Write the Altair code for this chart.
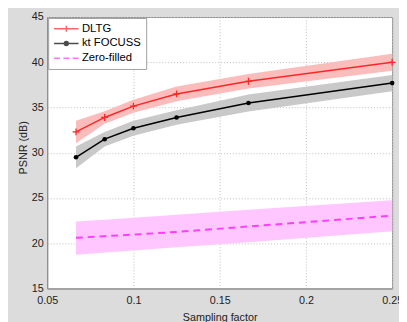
import altair as alt
import pandas as pd

# ---- data ----
sampling = [0.0667, 0.0833, 0.1, 0.125, 0.1667, 0.25]
dltg = [32.3, 33.9, 35.15, 36.5, 37.9, 40.0]
dltg_lo = [31.05, 33.2, 34.43, 35.68, 37.1, 39.07]
dltg_hi = [33.55, 34.6, 35.87, 37.32, 38.7, 40.93]
kt = [29.5, 31.5, 32.7, 33.9, 35.5, 37.7]
kt_lo = [28.3, 30.7, 31.87, 33.1, 34.57, 36.8]
kt_hi = [30.7, 32.3, 33.53, 34.7, 36.43, 38.6]
zf = [20.6, 20.78, 20.95, 21.25, 21.85, 23.05]
zf_lo = [18.74, 18.98, 19.2, 19.56, 20.1, 21.33]
zf_hi = [22.4, 22.6, 22.83, 23.15, 23.7, 24.75]

series = ["DLTG", "kt FOCUSS", "Zero-filled"]
line_colors = ["#ff2626", "#000000", "#ff3cff"]
band_colors = ["#fbbcbc", "#c9c9c9", "#ffc6ff"]
x_ticks = [0.05, 0.1, 0.15, 0.2, 0.25]
y_ticks = [15, 20, 25, 30, 35, 40, 45]

rows = []
for name, ys, los, his in [("DLTG", dltg, dltg_lo, dltg_hi),
                           ("kt FOCUSS", kt, kt_lo, kt_hi),
                           ("Zero-filled", zf, zf_lo, zf_hi)]:
    for xv, yv, lo, hi in zip(sampling, ys, los, his):
        rows.append({"series": name, "x": xv, "y": yv, "lo": lo, "hi": hi})
df = pd.DataFrame(rows)

FONT = "Liberation Sans"

X = alt.X("x:Q", scale=alt.Scale(domain=[0.05, 0.25], nice=False, zero=False),
          axis=alt.Axis(values=x_ticks, format="~g", title="Sampling factor",
                        labelPadding=6, titlePadding=7))
yaxis = alt.Axis(values=y_ticks, title="PSNR (dB)", labelPadding=4,
                 titleX=-24, titleY=133, titleAlign="center",
                 titleBaseline="middle", titleAngle=270)
Y = alt.Y("y:Q", scale=alt.Scale(domain=[15, 45], nice=False, zero=False), axis=yaxis)
Ylo = alt.Y("lo:Q", scale=alt.Scale(domain=[15, 45], nice=False, zero=False), axis=yaxis)

base = alt.Chart(df)

def sel(name):
    return base.transform_filter(alt.datum.series == name)

band_kt = sel("kt FOCUSS").mark_area(color=band_colors[1], opacity=1).encode(x=X, y=Ylo, y2="hi:Q")
band_dltg = sel("DLTG").mark_area(color=band_colors[0], opacity=1).encode(x=X, y=Ylo, y2="hi:Q")
band_zf = sel("Zero-filled").mark_area(color=band_colors[2], opacity=1).encode(x=X, y=Ylo, y2="hi:Q")

line_zf = sel("Zero-filled").mark_line(color=line_colors[2], strokeWidth=2,
                                       strokeDash=[7, 5]).encode(x=X, y=Y)
line_kt = sel("kt FOCUSS").mark_line(color=line_colors[1], strokeWidth=1.5).encode(x=X, y=Y)
line_dltg = sel("DLTG").mark_line(color=line_colors[0], strokeWidth=1.5).encode(x=X, y=Y)

pts_kt = sel("kt FOCUSS").mark_point(shape="circle", filled=True, size=22,
                                     color=line_colors[1], opacity=1).encode(x=X, y=Y)
pts_dltg = sel("DLTG").mark_point(shape="M-1,0H1M0,-1V1", filled=False, size=49,
                                  strokeWidth=1.3, color=line_colors[0],
                                  opacity=1).encode(x=X, y=Y)

legend_paths = [
    "M-2.5,0H2.5M0,-0.6V0.6M-0.6,0H0.6",
    "M-2.5,0H2.5M-0.4,0A0.4,0.4 0 1,1 0.4,0A0.4,0.4 0 1,1 -0.4,0"
    "M-0.2,0A0.2,0.2 0 1,1 0.2,0A0.2,0.2 0 1,1 -0.2,0",
    "M-2.5,0H-1.3M-0.6,0H0.6M1.3,0H2.5",
]

legend_layer = base.transform_filter("false").mark_point(filled=False, size=100).encode(
    x=X, y=Y,
    color=alt.Color("series:N", scale=alt.Scale(domain=series, range=line_colors),
                    legend=alt.Legend(title=None)),
    shape=alt.Shape("series:N", scale=alt.Scale(domain=series, range=legend_paths),
                    legend=alt.Legend(title=None)),
)

chart = alt.layer(
    band_kt, band_dltg, band_zf, line_zf, line_kt, line_dltg, pts_kt, pts_dltg, legend_layer
).properties(
    width=352, height=277,
    autosize=alt.AutoSizeParams(type="none"),
    padding={"left": 40, "top": 6, "right": 7, "bottom": 31},
    background="#dcdcdc",
).configure_view(
    fill="white", stroke="#8a8a8a", strokeWidth=1
).configure_axis(
    labelFont=FONT, labelFontSize=11, labelColor="#222222",
    titleFont=FONT, titleFontSize=11, titleFontWeight="normal", titleColor="#222222",
    grid=True, gridColor="#bdbdbd", gridDash=[1, 2], gridWidth=1,
    domainColor="#8a8a8a", ticks=False, labelFlush=False, labelOverlap=False,
    labelBound=False,
).configure_legend(
    orient="top-left", offset=1, padding=5, fillColor="white", strokeColor="#a0a0a0",
    labelFont=FONT, labelFontSize=11.5, labelColor="#000000",
    symbolStrokeWidth=1.5, symbolOffset=7.5, labelOffset=10, rowPadding=3,
)

chart.save("out.html", embed_options={"renderer": "svg", "actions": False})
